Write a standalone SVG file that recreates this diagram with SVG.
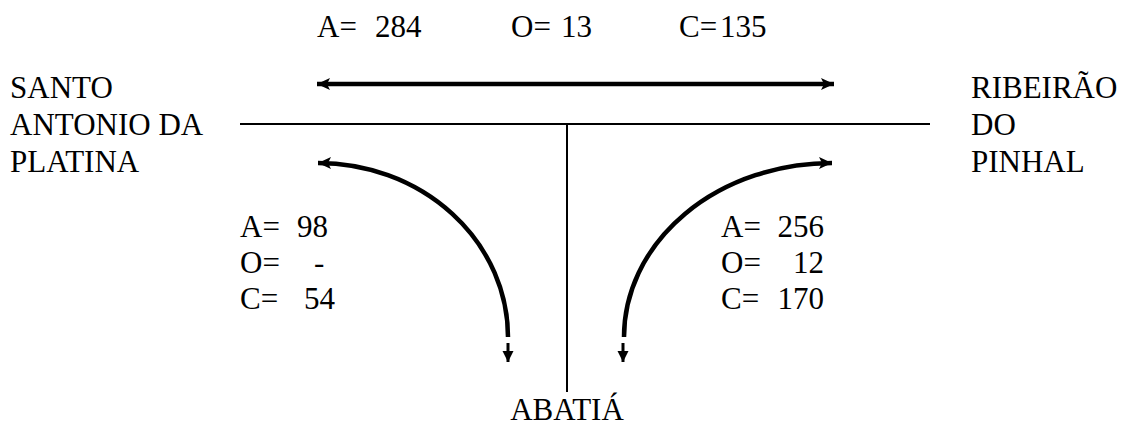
<svg xmlns="http://www.w3.org/2000/svg" width="1123" height="437" viewBox="0 0 1123 437">
<defs>
<marker id="ah" markerUnits="userSpaceOnUse" markerWidth="14" markerHeight="14" refX="13" refY="7" orient="auto-start-reverse">
<path d="M0,1 L13,7 L0,13 L3,7 Z" fill="#000"/>
</marker>
<marker id="ahs" markerUnits="userSpaceOnUse" markerWidth="12" markerHeight="12" refX="11" refY="6" orient="auto">
<path d="M0,0.5 L11,6 L0,11.5 Z" fill="#000"/>
</marker>
</defs>
<g id="roads" stroke="#000" stroke-width="2" fill="none">
<line x1="240" y1="124" x2="930" y2="124"/>
<line x1="567" y1="124" x2="567" y2="392"/>
</g>
<g id="connectors" stroke="#000" fill="none">
<line stroke-width="4.5" x1="317" y1="84" x2="834" y2="84" marker-start="url(#ah)" marker-end="url(#ah)"/>
<path stroke-width="4.5" d="M508,337 A190,174 0 0 0 318,163" marker-end="url(#ah)"/>
<line stroke-width="3" x1="508" y1="343" x2="508" y2="362" marker-end="url(#ahs)"/>
<path stroke-width="4.5" d="M624,337 A208,174 0 0 1 832,163" marker-end="url(#ah)"/>
<line stroke-width="3" x1="623" y1="343" x2="623" y2="362" marker-end="url(#ahs)"/>
</g>
<g id="top-counts">
<text font-family="Liberation Serif, Times New Roman, serif" font-size="31" x="317" y="37">A=</text><text font-family="Liberation Serif, Times New Roman, serif" font-size="31" x="375" y="37">284</text>
<text font-family="Liberation Serif, Times New Roman, serif" font-size="31" x="511" y="37">O=</text><text font-family="Liberation Serif, Times New Roman, serif" font-size="31" x="561" y="37">13</text>
<text font-family="Liberation Serif, Times New Roman, serif" font-size="31" x="679" y="37">C=</text><text font-family="Liberation Serif, Times New Roman, serif" font-size="31" x="720" y="37">135</text>
</g>
<g id="santo-antonio">
<text font-family="Liberation Serif, Times New Roman, serif" font-size="31" x="10" y="98">SANTO</text>
<text font-family="Liberation Serif, Times New Roman, serif" font-size="31" x="10" y="135">ANTONIO DA</text>
<text font-family="Liberation Serif, Times New Roman, serif" font-size="31" x="10" y="172">PLATINA</text>
</g>
<g id="ribeirao">
<text font-family="Liberation Serif, Times New Roman, serif" font-size="31" x="971" y="98">RIBEIR&#195;O</text>
<text font-family="Liberation Serif, Times New Roman, serif" font-size="31" x="971" y="135">DO</text>
<text font-family="Liberation Serif, Times New Roman, serif" font-size="31" x="971" y="172">PINHAL</text>
</g>
<g id="abatia">
<text font-family="Liberation Serif, Times New Roman, serif" font-size="31" x="567" y="420" text-anchor="middle">ABATI&#193;</text>
</g>
<g id="left-counts">
<text font-family="Liberation Serif, Times New Roman, serif" font-size="31" x="240" y="237">A=</text><text font-family="Liberation Serif, Times New Roman, serif" font-size="31" x="297" y="237">98</text>
<text font-family="Liberation Serif, Times New Roman, serif" font-size="31" x="240" y="273">O=</text><text font-family="Liberation Serif, Times New Roman, serif" font-size="31" x="314" y="273">-</text>
<text font-family="Liberation Serif, Times New Roman, serif" font-size="31" x="240" y="309">C=</text><text font-family="Liberation Serif, Times New Roman, serif" font-size="31" x="304" y="309">54</text>
</g>
<g id="right-counts">
<text font-family="Liberation Serif, Times New Roman, serif" font-size="31" x="721" y="237">A=</text><text font-family="Liberation Serif, Times New Roman, serif" font-size="31" x="824" y="237" text-anchor="end">256</text>
<text font-family="Liberation Serif, Times New Roman, serif" font-size="31" x="721" y="273">O=</text><text font-family="Liberation Serif, Times New Roman, serif" font-size="31" x="824" y="273" text-anchor="end">12</text>
<text font-family="Liberation Serif, Times New Roman, serif" font-size="31" x="721" y="309">C=</text><text font-family="Liberation Serif, Times New Roman, serif" font-size="31" x="824" y="309" text-anchor="end">170</text>
</g>
</svg>
